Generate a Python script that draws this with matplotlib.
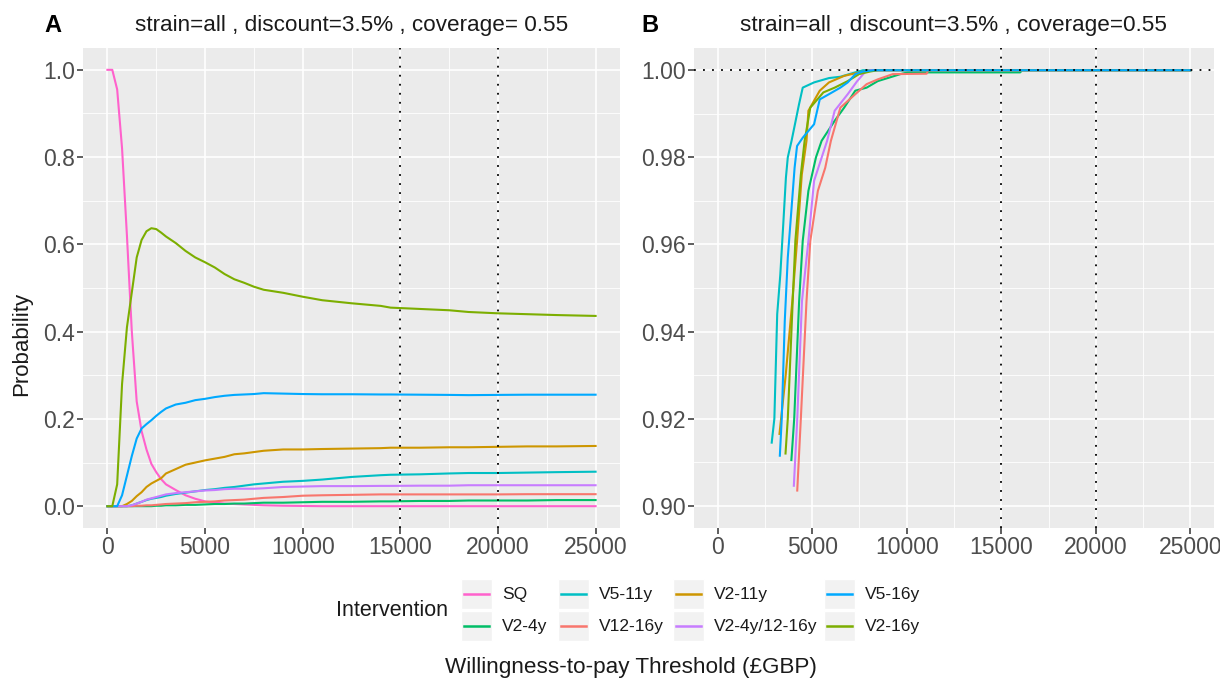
import numpy as np
import matplotlib
matplotlib.use("Agg")
import matplotlib.pyplot as plt
from matplotlib.patches import Rectangle
from matplotlib.lines import Line2D
from matplotlib.ticker import MultipleLocator

plt.rcParams['font.family'] = ['Liberation Sans', 'DejaVu Sans']

# ---- panel A data (probability cost-effective vs WTP) ----
wtp_a = [0, 250, 500, 750, 1000, 1250, 1500, 1750, 2000, 2250, 2500, 2750, 3000,
         3500, 4000, 4500, 5000, 5500, 6000, 6500, 7000, 7500, 8000, 9000, 10000,
         11000, 12500, 14000, 14500, 16000, 17500, 18500, 20000, 21500, 23000, 25000]

sq_a = [1.0, 1.0, 0.955, 0.82, 0.62, 0.40, 0.24, 0.172, 0.13, 0.097, 0.078, 0.062, 0.050,
        0.037, 0.025, 0.017, 0.011, 0.008, 0.006, 0.005, 0.004, 0.003, 0.002, 0.001, 0.0005,
        0, 0, 0, 0, 0, 0, 0, 0, 0, 0, 0]
v24_a = [0, 0, 0, 0, 0, 0, 0, 0, 0, 0, 0.001, 0.001, 0.002,
         0.002, 0.003, 0.003, 0.004, 0.005, 0.005, 0.006, 0.006, 0.007, 0.008, 0.008, 0.009,
         0.010, 0.010, 0.011, 0.011, 0.012, 0.012, 0.013, 0.013, 0.013, 0.014, 0.014]
v511_a = [0, 0, 0, 0, 0, 0.002, 0.006, 0.010, 0.014, 0.017, 0.019, 0.021, 0.024,
          0.028, 0.031, 0.034, 0.037, 0.039, 0.042, 0.044, 0.047, 0.050, 0.052, 0.056, 0.058,
          0.061, 0.067, 0.071, 0.072, 0.073, 0.075, 0.076, 0.076, 0.077, 0.078, 0.079]
v1216_a = [0, 0, 0, 0, 0, 0, 0.001, 0.001, 0.002, 0.002, 0.003, 0.004, 0.005,
           0.006, 0.007, 0.009, 0.010, 0.011, 0.013, 0.014, 0.015, 0.017, 0.019, 0.021, 0.024,
           0.025, 0.026, 0.027, 0.027, 0.027, 0.027, 0.027, 0.027, 0.0275, 0.0275, 0.0275]
v211_a = [0, 0, 0, 0, 0.005, 0.012, 0.023, 0.032, 0.044, 0.052, 0.058, 0.064, 0.075,
          0.085, 0.095, 0.100, 0.105, 0.109, 0.113, 0.119, 0.121, 0.124, 0.127, 0.130, 0.130,
          0.131, 0.132, 0.133, 0.134, 0.134, 0.135, 0.135, 0.136, 0.137, 0.137, 0.138]
v24_1216_a = [0, 0, 0, 0, 0, 0.002, 0.006, 0.010, 0.015, 0.018, 0.021, 0.024, 0.027,
              0.030, 0.032, 0.034, 0.036, 0.037, 0.039, 0.040, 0.040, 0.040, 0.041, 0.044, 0.045,
              0.046, 0.046, 0.0465, 0.0465, 0.047, 0.047, 0.048, 0.048, 0.048, 0.048, 0.048]
v516_a = [0, 0, 0, 0.025, 0.07, 0.115, 0.155, 0.178, 0.188, 0.197, 0.207, 0.216, 0.224,
          0.233, 0.237, 0.243, 0.246, 0.250, 0.253, 0.255, 0.256, 0.257, 0.259, 0.258, 0.257,
          0.2565, 0.2565, 0.256, 0.256, 0.2555, 0.255, 0.2545, 0.255, 0.2555, 0.2555, 0.2555]
v216_a = [0, 0, 0.05, 0.28, 0.41, 0.49, 0.570, 0.610, 0.630, 0.637, 0.635, 0.627, 0.618,
          0.603, 0.585, 0.570, 0.559, 0.547, 0.532, 0.520, 0.512, 0.503, 0.496, 0.489, 0.480,
          0.472, 0.465, 0.459, 0.455, 0.452, 0.449, 0.445, 0.442, 0.440, 0.438, 0.436]

# ---- panel B data (zoomed upper range) ----
v24_b_x = [3900, 4050, 4310, 4500, 4800, 5200, 5500, 5890, 6190, 6690, 7280, 7880, 8470,
           9070, 9660, 10060, 16000, 16100, 25000]
v24_b_y = [0.9105, 0.92, 0.947, 0.9608, 0.9723, 0.98, 0.9838, 0.9864, 0.9884, 0.9914, 0.9953,
           0.996, 0.9975, 0.9983, 0.9991, 0.9995, 0.9995, 1.0, 1.0]
v511_b_x = [2860, 3000, 3150, 3313, 3470, 3610, 3710, 3910, 4305, 4500, 5100, 5890, 6490,
            7280, 7680, 25000]
v511_b_y = [0.9145, 0.92, 0.944, 0.953, 0.9646, 0.9753, 0.98, 0.9838, 0.9922, 0.996, 0.9972,
            0.9982, 0.9985, 0.9995, 1.0, 1.0]
v1216_b_x = [4210, 4400, 4700, 4900, 5300, 5690, 5990, 6490, 7280, 7880, 8470, 9260, 11050,
             11150, 25000]
v1216_b_y = [0.9035, 0.92, 0.947, 0.9608, 0.9723, 0.9776, 0.9838, 0.9914, 0.9945, 0.9968,
             0.9979, 0.9991, 0.9992, 1.0, 1.0]
v211_b_x = [3270, 3600, 3950, 4200, 4450, 4700, 4800, 5400, 5890, 6690, 7280, 8070, 25000]
v211_b_y = [0.9165, 0.93, 0.947, 0.9608, 0.976, 0.9838, 0.9907, 0.9953, 0.9972, 0.9987,
            0.9993, 1.0, 1.0]
v24_1216_b_x = [4030, 4210, 4460, 4800, 5100, 5790, 6190, 6880, 7380, 7780, 8070, 25000]
v24_1216_b_y = [0.9046, 0.92, 0.947, 0.9608, 0.9746, 0.9838, 0.9907, 0.9945, 0.9975, 0.9995,
                1.0, 1.0]
v516_b_x = [3290, 3390, 3550, 3710, 3910, 4070, 4200, 4500, 5100, 5300, 5400, 5890, 6490,
            6880, 7280, 7680, 8270, 25000]
v516_b_y = [0.9115, 0.92, 0.9424, 0.957, 0.9684, 0.9776, 0.9826, 0.9845, 0.9876, 0.9914,
            0.9933, 0.9945, 0.996, 0.9972, 0.9991, 0.9997, 1.0, 1.0]
v216_b_x = [3590, 3710, 3970, 4110, 4400, 4600, 4900, 5590, 6190, 6880, 7480, 8070, 8470, 25000]
v216_b_y = [0.912, 0.92, 0.947, 0.9608, 0.976, 0.9838, 0.9914, 0.9949, 0.996, 0.9975, 0.9991,
            0.9997, 1.0, 1.0]

names = ["SQ", "V2-4y", "V5-11y", "V12-16y", "V2-11y", "V2-4y/12-16y", "V5-16y", "V2-16y"]
colors = ["#FF61CC", "#00BE67", "#00BFC4", "#F8766D", "#CD9600", "#C77CFF", "#00A9FF", "#7CAE00"]
thresholds = [15000, 20000]

series_a = [sq_a, v24_a, v511_a, v1216_a, v211_a, v24_1216_a, v516_a, v216_a]
series_b = [None, (v24_b_x, v24_b_y), (v511_b_x, v511_b_y), (v1216_b_x, v1216_b_y),
            (v211_b_x, v211_b_y), (v24_1216_b_x, v24_1216_b_y), (v516_b_x, v516_b_y),
            (v216_b_x, v216_b_y)]

W, H = 1220, 680
fig = plt.figure(figsize=(W / 100, H / 100), dpi=100)


def fx(p):
    return p / W


def fy(p):
    return 1 - p / H


def style(ax):
    ax.set_facecolor("#EBEBEB")
    for s in ax.spines.values():
        s.set_visible(False)
    ax.grid(which="major", color="white", lw=1.2)
    ax.grid(which="minor", color="white", lw=0.6)
    ax.set_axisbelow(True)
    ax.tick_params(which="major", length=4, width=1.1, color="#333333",
                   labelcolor="#4D4D4D", labelsize=16.5, pad=2)
    ax.tick_params(which="minor", length=0)
    ax.xaxis.set_major_locator(MultipleLocator(5000))
    ax.xaxis.set_minor_locator(MultipleLocator(2500))
    ax.set_xlim(-1250, 26250)


axA = fig.add_axes([fx(83), fy(528), fx(537), 480 / H])
axB = fig.add_axes([fx(694), fy(528), fx(520), 480 / H])
style(axA)
style(axB)

for vals, c in zip(series_a, colors):
    axA.plot(wtp_a, vals, color=c, lw=1.5)
axA.set_ylim(-0.05, 1.05)
axA.yaxis.set_major_locator(MultipleLocator(0.2))
axA.yaxis.set_minor_locator(MultipleLocator(0.1))
axA.yaxis.set_major_formatter(plt.FormatStrFormatter("%.1f"))

order_b = [1, 2, 3, 4, 5, 7, 6]
for i in order_b:
    bx, by = series_b[i]
    axB.plot(bx, by, color=colors[i], lw=1.5)
axB.set_ylim(0.8949, 1.0051)
axB.yaxis.set_major_locator(MultipleLocator(0.02))
axB.yaxis.set_minor_locator(MultipleLocator(0.01))
axB.yaxis.set_major_formatter(plt.FormatStrFormatter("%.2f"))
axB.axhline(1.0, color="black", lw=1.3, ls=(0, (1, 4)), zorder=5)

for ax in (axA, axB):
    for t in thresholds:
        ax.axvline(t, color="black", lw=1.3, ls=(0, (1, 4)), zorder=5)

fig.text(fx(352), fy(25), "strain=all , discount=3.5% , coverage= 0.55",
         ha="center", va="center", fontsize=16.2, color="#1A1A1A")
fig.text(fx(954), fy(25), "strain=all , discount=3.5% , coverage=0.55",
         ha="center", va="center", fontsize=16.2, color="#1A1A1A")
fig.text(fx(53), fy(25), "A", ha="center", va="center", fontsize=17, fontweight="bold")
fig.text(fx(650), fy(25), "B", ha="center", va="center", fontsize=17, fontweight="bold")
fig.text(fx(22), fy(344), "Probability", rotation=90, ha="center", va="center",
         fontsize=16, color="#1A1A1A")
fig.text(fx(631), fy(667), "Willingness-to-pay Threshold (\u00a3GBP)", ha="center",
         va="center", fontsize=16.2, color="#1A1A1A")

# legend (2 rows x 4 columns, filled column-wise)
fig.text(fx(448), fy(610), "Intervention", ha="right", va="center", fontsize=15.5,
         color="#1A1A1A")
key_left = [461, 558, 673, 824]
row_mid = [594, 626]
for k, (nm, c) in enumerate(zip(names, colors)):
    col, row = k // 2, k % 2
    x0 = key_left[col]
    yc = row_mid[row]
    fig.add_artist(Rectangle((fx(x0), fy(yc + 15)), fx(31), 30 / H,
                             transform=fig.transFigure, facecolor="#F2F2F2",
                             edgecolor="white", lw=1))
    fig.add_artist(Line2D([fx(x0 + 3), fx(x0 + 28)], [fy(yc), fy(yc)],
                          transform=fig.transFigure, color=c, lw=1.8))
    fig.text(fx(x0 + 41), fy(yc), nm, ha="left", va="center", fontsize=12.5,
             color="#1A1A1A")

fig.savefig("out.png", dpi=100)
